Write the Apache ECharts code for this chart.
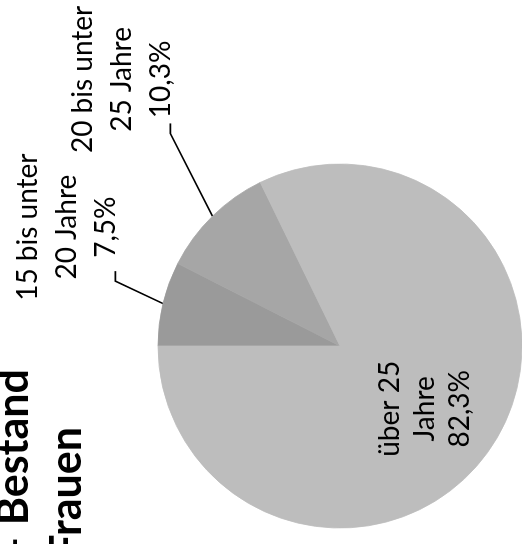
<!DOCTYPE html>
<html><head><meta charset="utf-8">
<script src="https://cdn.jsdelivr.net/npm/echarts@6/dist/echarts.min.js"></script>
<style>
html,body{margin:0;padding:0;background:#fff;overflow:hidden;width:522px;height:544px;}
#wrap{position:absolute;left:0;top:0;width:544px;height:522px;transform-origin:0 0;transform:translate(0,544px) rotate(-90deg);}
</style></head><body>
<div id="wrap"></div>
<script>
// Data (chart is photographed rotated by 90° counter-clockwise)
const categories = ['15 bis unter\n20 Jahre', '20 bis unter\n25 Jahre', 'über 25\nJahre'];
const shares = [7.5, 10.3, 82.3];
const sliceColors = ['#9a9a9a', '#a6a6a6', '#bdbdbd'];
const titleLines = ['– Bestand', 'Frauen'];

const chart = echarts.init(document.getElementById('wrap'), null, {renderer: 'canvas', width: 544, height: 522});

const lineStyle = {color: '#000', width: 1.6};
const leader = [
  {length: 49, length2: 21},
  {length: 60, length2: 50}
];

const data = shares.map(function (v, i) {
  const item = {name: categories[i], value: v, itemStyle: {color: sliceColors[i], borderWidth: 0.8, borderColor: sliceColors[i]}};
  if (i === 2) {
    item.label = {position: 'inside', lineHeight: 35};
    item.labelLine = {show: false};
  } else {
    item.labelLine = {show: true, length: leader[i].length, length2: leader[i].length2, smooth: false, lineStyle: lineStyle};
  }
  return item;
});

chart.setOption({
  animation: false,
  backgroundColor: '#fff',
  graphic: [
    {type: 'text', x: 175, y: 14.5, style: {text: titleLines[0], font: 'bold 43px Lato', fill: '#000', textAlign: 'right', textVerticalAlign: 'middle'}},
    {type: 'text', x: 117, y: 67.5, style: {text: titleLines[1], font: 'bold 43px Lato', fill: '#000', textAlign: 'right', textVerticalAlign: 'middle'}}
  ],
  series: [{
    type: 'pie',
    center: [198, 340],
    radius: 182,
    startAngle: 90,
    clockwise: true,
    avoidLabelOverlap: false,
    silent: true,
    emphasis: {disabled: true},
    label: {
      show: true,
      position: 'outside',
      fontFamily: 'Lato',
      fontSize: 28,
      lineHeight: 39,
      color: '#000',
      formatter: function (p) {
        return p.name + '\n' + p.value.toFixed(1).replace('.', ',') + '%';
      }
    },
    labelLine: {show: true, lineStyle: lineStyle},
    labelLayout: function (p) {
      if (p.dataIndex === 2) {
        return {
          x: p.labelRect.x + p.labelRect.width / 2 - 13,
          y: p.labelRect.y + p.labelRect.height / 2 + 5,
          align: 'center', verticalAlign: 'middle'
        };
      }
      const pts = p.labelLinePoints;
      if (!pts) return {};
      const end = pts[2];
      return {
        x: end[0] + 44,
        y: end[1] + 10,
        align: 'center',
        verticalAlign: 'bottom',
        labelLinePoints: [pts[0], [end[0] - 10, end[1]], end]
      };
    },
    data: data
  }]
});
</script>
</body></html>
